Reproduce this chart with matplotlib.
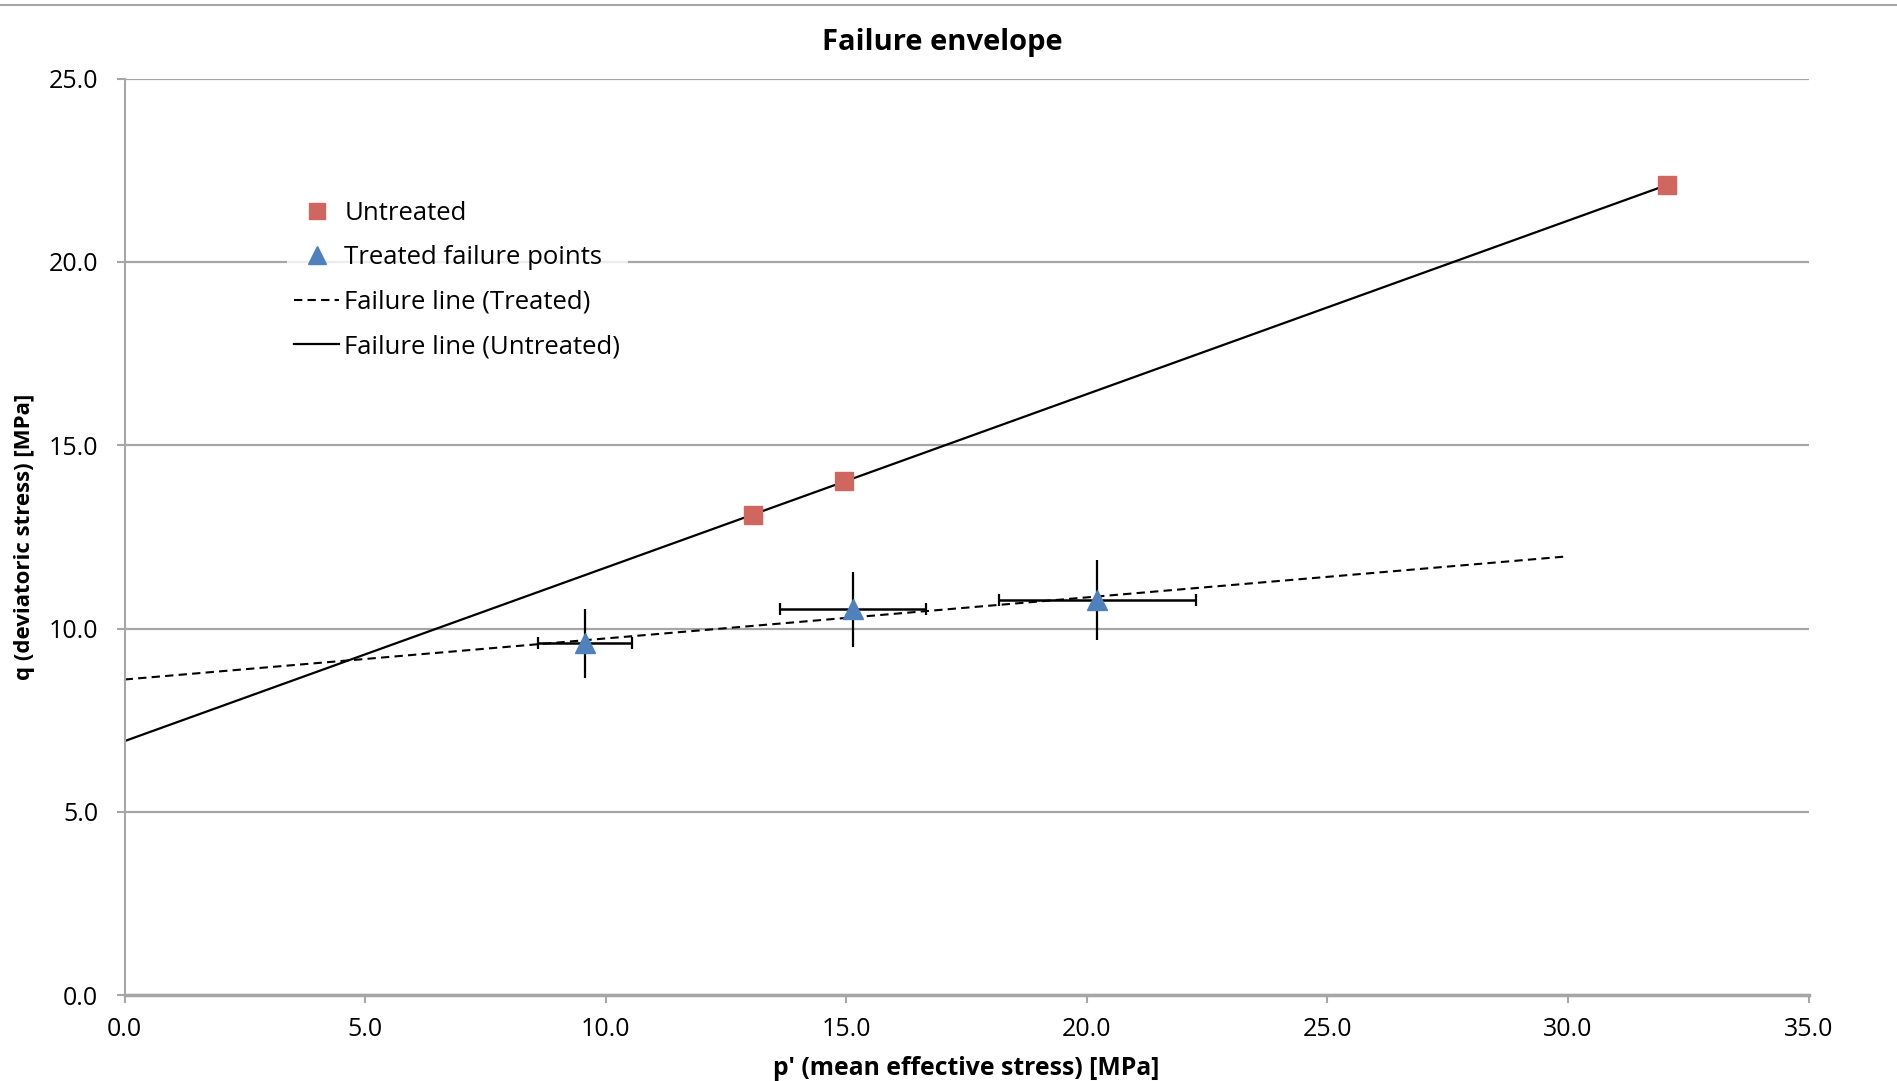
import numpy as np
import matplotlib.pyplot as plt
from matplotlib.lines import Line2D

plt.rcParams['font.family'] = ['Open Sans', 'DejaVu Sans']

# untreated failure points
p_untreated = [13.05, 14.96, 32.06]
q_untreated = [13.09, 14.02, 22.10]

# treated failure points with error bars
p_treated = [9.57, 15.14, 20.22]
q_treated = [9.60, 10.52, 10.78]
p_err = [0.97, 1.52, 2.04]
q_err = [0.94, 1.03, 1.09]

# failure lines (end points)
line_treated_p = [0.0, 30.0]
line_treated_q = [8.61, 11.97]
line_untreated_p = [0.0, 32.06]
line_untreated_q = [6.93, 22.10]

xticks = np.arange(0, 36, 5)
yticks = np.arange(0, 26, 5)

grey = '#A6A6A6'

fig = plt.figure(figsize=(18.97, 10.81), dpi=100)
ax = fig.add_axes([0.0657, 0.0794, 0.8877, 0.8479])

ax.errorbar(p_treated, q_treated, xerr=p_err, fmt='none', ecolor='black',
            elinewidth=1.8, capsize=4.5, capthick=1.6, zorder=3)
ax.errorbar(p_treated, q_treated, yerr=q_err, fmt='none', ecolor='black',
            elinewidth=1.6, capsize=0, zorder=3)

ax.plot(line_treated_p, line_treated_q, color='black', lw=1.5, ls=(0, (4, 2.5)),
        label='Failure line (Treated)', zorder=2)
ax.plot(line_untreated_p, line_untreated_q, color='black', lw=1.6,
        label='Failure line (Untreated)', zorder=2)
ax.plot(p_untreated, q_untreated, ls='none', marker='s', ms=13,
        color='#CF6660', mec='#CF6660', label='Untreated', zorder=4)
ax.plot(p_treated, q_treated, ls='none', marker='^', ms=15,
        color='#4F81BD', mec='#4F81BD', label='Treated failure points', zorder=4)

ax.set_xlim(0, 35)
ax.set_ylim(0, 25)
ax.set_xticks(xticks)
ax.set_yticks(yticks)
ax.set_xticklabels([f'{v:.1f}' for v in xticks])
ax.set_yticklabels([f'{v:.1f}' for v in yticks])
ax.tick_params(direction='out', length=6, width=1.5, color=grey,
               labelsize=18, labelcolor='black')
ax.tick_params(axis='x', pad=10)
ax.tick_params(axis='y', pad=13)

ax.grid(axis='y', color=grey, lw=1.6)
ax.set_axisbelow(True)
for s in ['top', 'right']:
    ax.spines[s].set_visible(False)
ax.spines['left'].set_color(grey)
ax.spines['left'].set_linewidth(1.5)
ax.spines['bottom'].set_color(grey)
ax.spines['bottom'].set_linewidth(2.5)

ax.set_xlabel("p' (mean effective stress) [MPa]", fontsize=17.8, fontweight='bold')
ax.xaxis.set_label_coords(0.5, -0.066)
ax.set_ylabel('q (deviatoric stress) [MPa]', fontsize=16, fontweight='bold')
ax.yaxis.set_label_coords(-0.053, 0.5)

fig.text(0.4968, 0.961, 'Failure envelope', fontsize=21, fontweight='bold',
         ha='center', va='center')

handles, labels = ax.get_legend_handles_labels()
order = [2, 3, 0, 1]
leg = ax.legend([handles[i] for i in order], [labels[i] for i in order],
                loc='upper left', bbox_to_anchor=(0.0886, 0.889), fontsize=18.5,
                frameon=True, facecolor='white', edgecolor='none', fancybox=False,
                handlelength=1.75, handletextpad=0.2, labelspacing=0.76,
                borderpad=0.3, markerscale=0.85)

fig.add_artist(Line2D([0, 1], [1 - 5 / 1081, 1 - 5 / 1081], color=grey, lw=1.5))

fig.savefig('out.png', dpi=100)
